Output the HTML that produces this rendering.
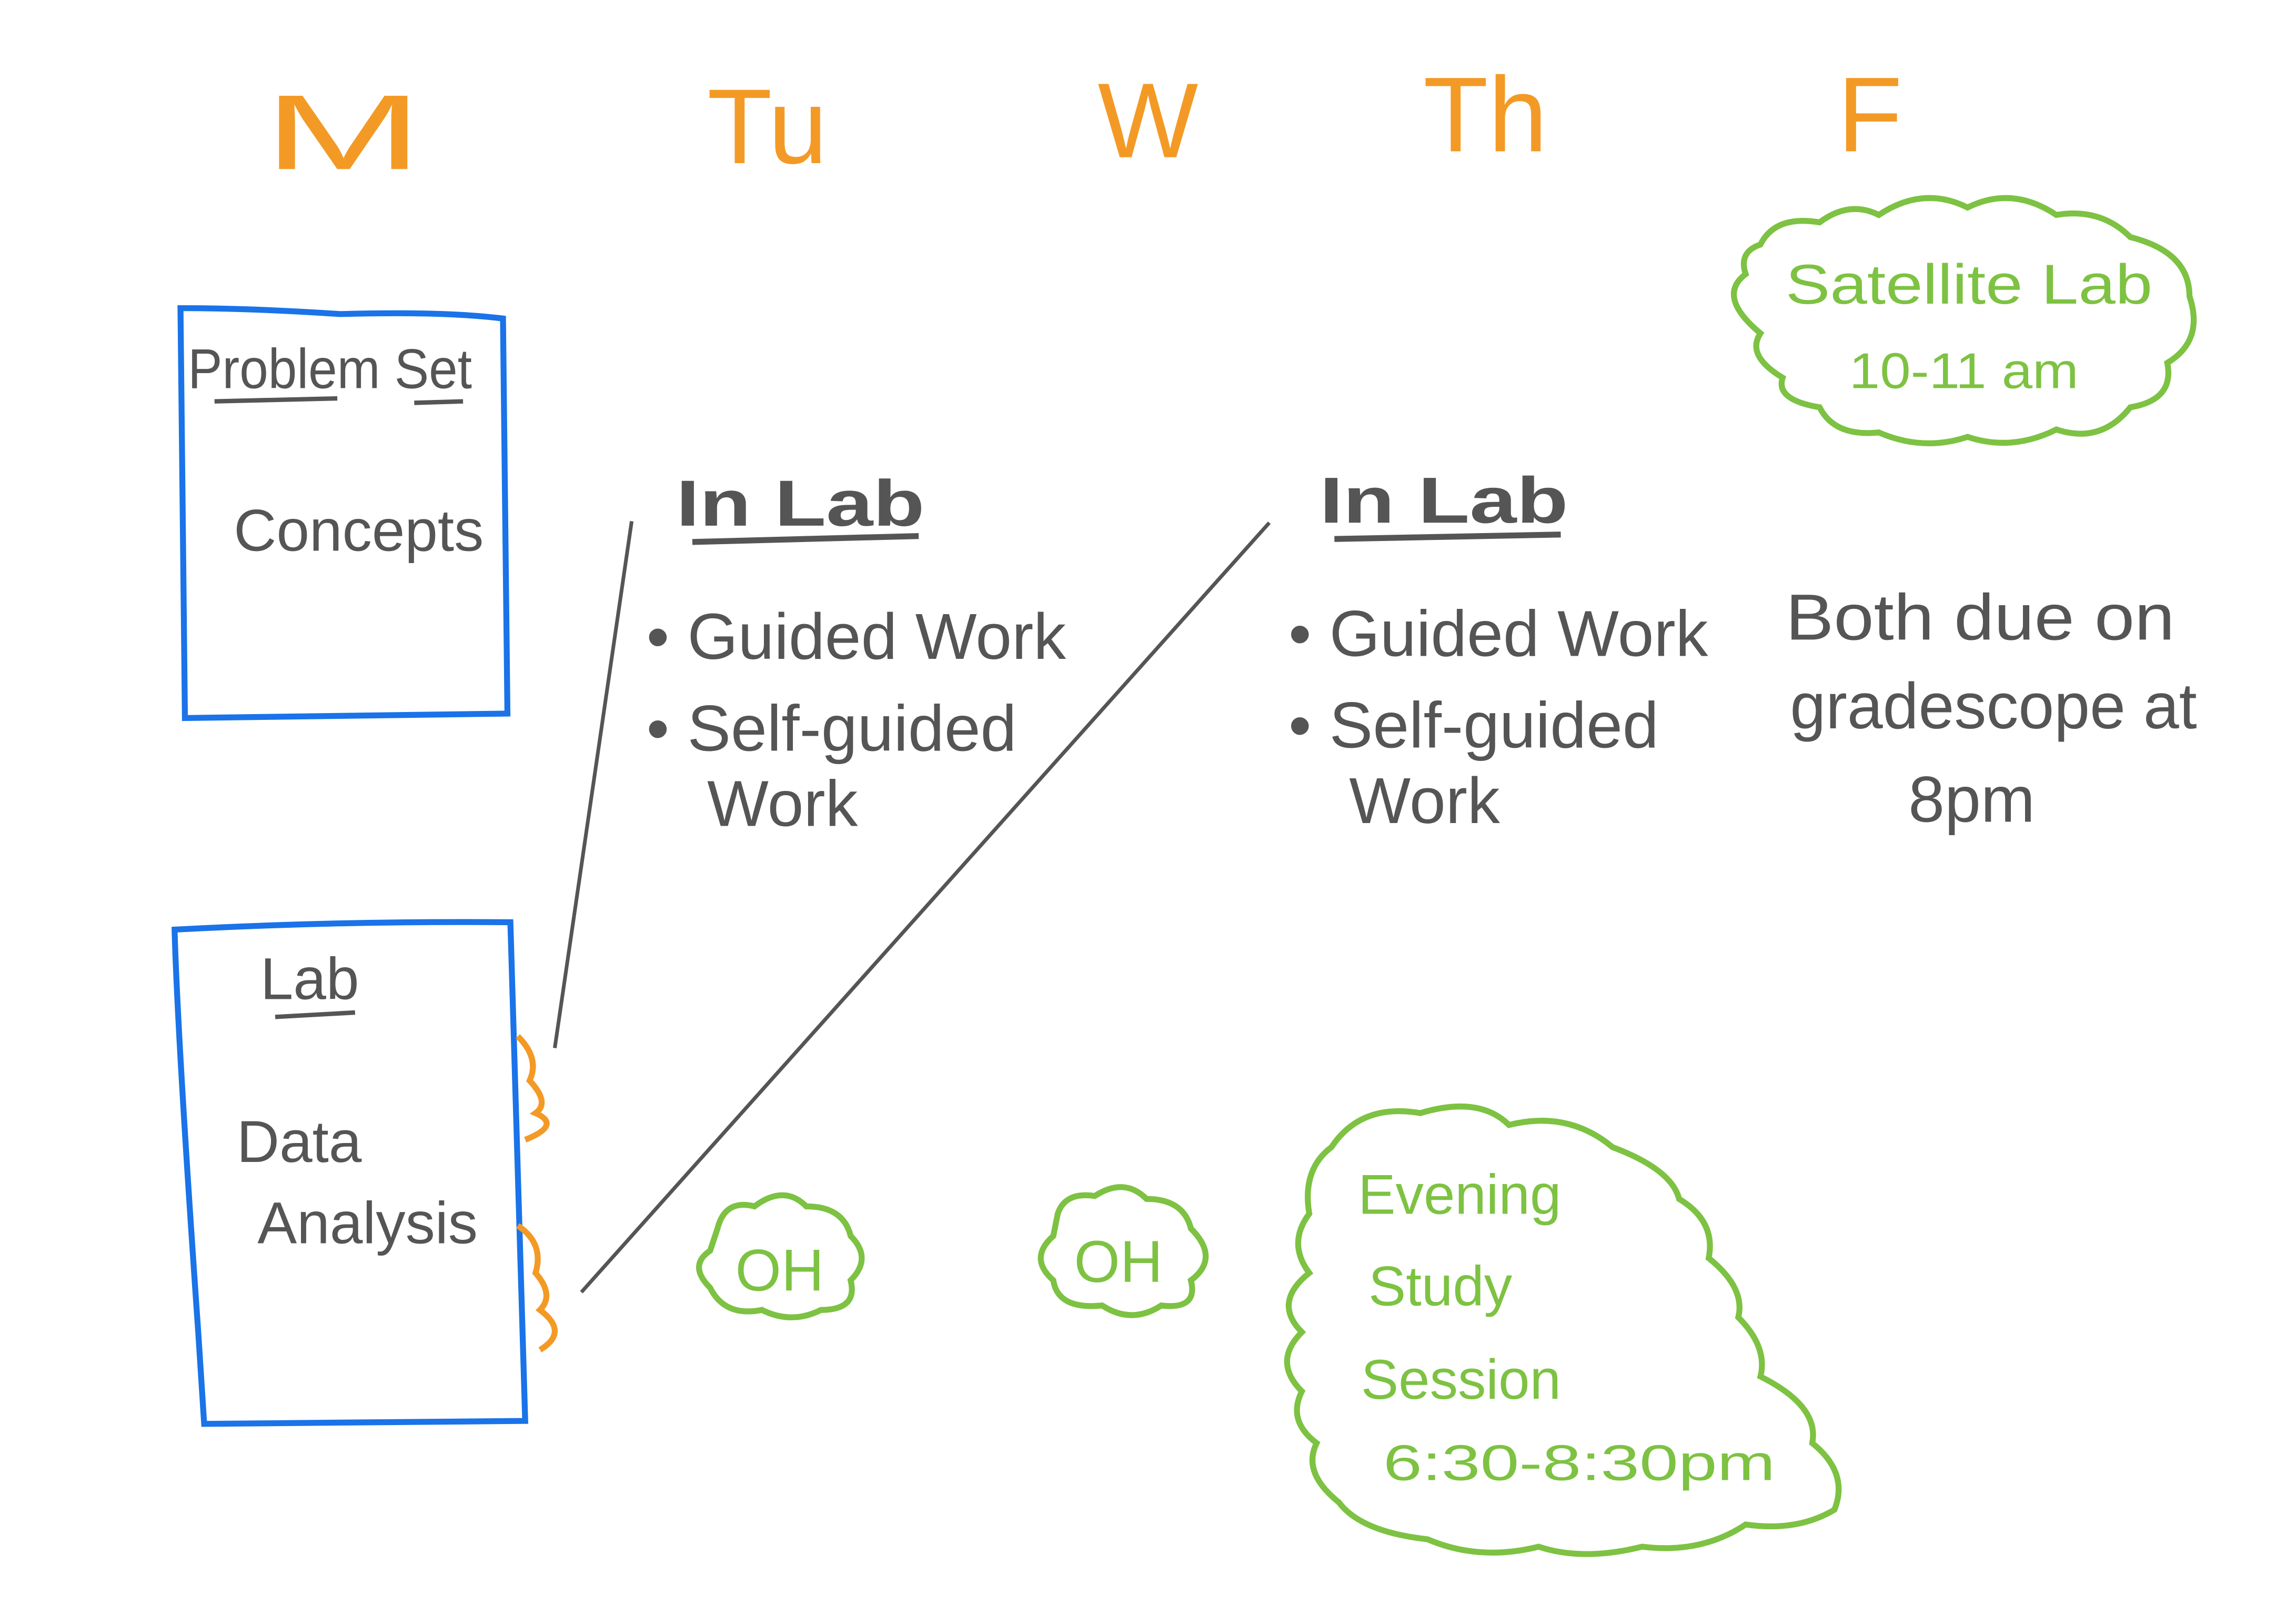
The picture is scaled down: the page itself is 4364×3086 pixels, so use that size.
<!DOCTYPE html>
<html><head><meta charset="utf-8"><style>
html,body{margin:0;padding:0;background:#fff}
svg{display:block}
text{font-family:"Liberation Sans",sans-serif}
</style></head><body>
<svg width="4364" height="3086" viewBox="0 0 1552 1097" xmlns="http://www.w3.org/2000/svg">
<rect width="1552" height="1097" fill="#fff"/>
<g fill="#f39a26" font-size="72">
<text x="178" y="114" textLength="108" lengthAdjust="spacingAndGlyphs">M</text>
<text x="478" y="110">Tu</text>
<text x="742" y="106">W</text>
<text x="962" y="102">Th</text>
<text x="1242" y="102">F</text>
</g>
<g fill="none" stroke="#1a73e8" stroke-width="4">
<path d="M122 208 L125 485 L343 482 L340 215 Q300 210 230 212 Q170 208 122 208Z"/>
<path d="M118 628 Q230 622 345 623 L355 960 L138 962 L134 900 Q120 700 118 628Z"/>
</g>
<g fill="#555" font-size="40">
<text x="127" y="262" font-size="38" textLength="192" lengthAdjust="spacingAndGlyphs">Problem Set</text>
<text x="158" y="372">Concepts</text>
<text x="176" y="675">Lab</text>
<text x="160" y="785">Data</text>
<text x="174" y="840">Analysis</text>
</g>
<g stroke="#555" stroke-width="3" fill="none">
<path d="M145 271 L228 269 M280 272 L313 271 M186 687 L240 684"/>
<path d="M427 352 L375 708 M858 353 L393 873" stroke-width="2.5"/>
<path d="M468 366 L621 362 M902 364 L1055 361" stroke-width="4"/>
</g>
<g fill="#555" font-size="44">
<text x="457" y="355" font-weight="bold" textLength="168" lengthAdjust="spacingAndGlyphs">In Lab</text>
<text x="892" y="353" font-weight="bold" textLength="168" lengthAdjust="spacingAndGlyphs">In Lab</text>
<text x="437" y="445">• Guided Work</text>
<text x="437" y="507">• Self-guided</text>
<text x="478" y="558">Work</text>
<text x="871" y="443">• Guided Work</text>
<text x="871" y="505">• Self-guided</text>
<text x="912" y="556">Work</text>
<text x="1207" y="432" textLength="263" lengthAdjust="spacingAndGlyphs">Both due on</text>
<text x="1210" y="492" textLength="275" lengthAdjust="spacingAndGlyphs">gradescope at</text>
<text x="1290" y="555">8pm</text>
</g>
<g fill="none" stroke="#f39a26" stroke-width="4">
<path d="M350 700 Q365 715 358 730 Q372 745 362 752 Q380 760 355 770"/>
<path d="M350 828 Q368 840 362 860 Q375 875 365 885 Q385 900 365 912"/>
</g>
<g fill="none" stroke="#7dc242" stroke-width="4">
<path d="M1190 165 Q1200 145 1230 150 Q1250 135 1270 145 Q1300 125 1330 140 Q1360 125 1390 145 Q1420 140 1440 160 Q1480 170 1480 200 Q1490 230 1465 245 Q1470 270 1440 275 Q1420 300 1390 290 Q1360 305 1330 295 Q1300 305 1270 292 Q1240 295 1230 275 Q1200 270 1205 255 Q1180 240 1190 225 Q1160 200 1180 185 Q1175 170 1190 165Z"/>
<path d="M485 830 Q490 810 510 815 Q530 800 545 815 Q570 815 575 835 Q590 850 575 865 Q580 885 555 885 Q535 895 515 885 Q490 890 480 870 Q465 855 480 845Z"/>
<path d="M715 820 Q720 805 740 808 Q760 795 775 810 Q800 810 805 830 Q825 850 805 865 Q810 885 785 882 Q765 895 745 882 Q715 885 712 865 Q695 850 712 835Z"/>
<path d="M900 775 Q920 745 960 752 Q1000 740 1020 760 Q1060 750 1090 775 Q1130 790 1135 810 Q1160 825 1155 850 Q1180 870 1175 890 Q1195 910 1190 930 Q1230 950 1225 975 Q1250 995 1240 1020 Q1215 1035 1180 1030 Q1150 1050 1110 1045 Q1070 1055 1040 1045 Q1000 1055 965 1040 Q920 1035 905 1015 Q880 995 890 975 Q870 960 880 940 Q860 920 880 900 Q860 880 885 860 Q870 840 885 820 Q880 790 900 775Z"/>
</g>
<g fill="#7dc242" font-size="38">
<text x="1207" y="205" textLength="248" lengthAdjust="spacingAndGlyphs">Satellite Lab</text>
<text x="1250" y="262" font-size="34" textLength="155" lengthAdjust="spacingAndGlyphs">10-11 am</text>
<text x="497" y="872" font-size="40">OH</text>
<text x="726" y="866" font-size="40">OH</text>
<text x="918" y="820">Evening</text>
<text x="925" y="882">Study</text>
<text x="920" y="945">Session</text>
<text x="935" y="1000" font-size="34" textLength="265" lengthAdjust="spacingAndGlyphs">6:30-8:30pm</text>
</g>
</svg>
</body></html>
